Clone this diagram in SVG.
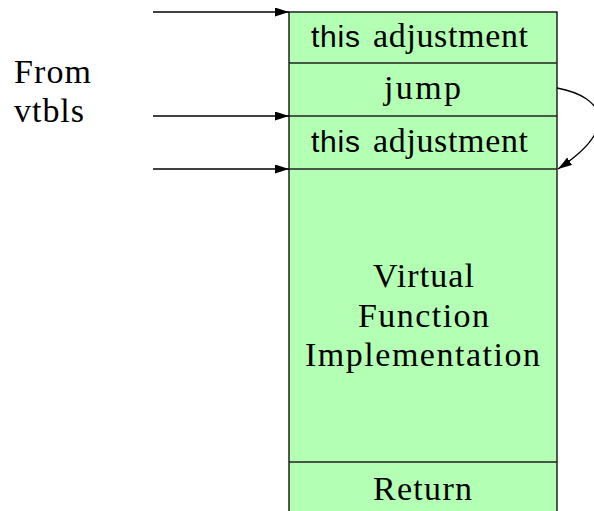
<svg xmlns="http://www.w3.org/2000/svg" width="594" height="511" viewBox="0 0 594 511">
<defs>
<style>
.serif{font-family:"Liberation Serif","DejaVu Serif",serif;font-size:34px;fill:#000}
.sans{font-family:"Liberation Sans",Arial,sans-serif;font-size:30px;fill:#000}
.cell{fill:#b3ffb3;stroke:#000;stroke-width:1.3}
.div{stroke:#222;stroke-width:1.3}
.conn{stroke:#000;stroke-width:1.3;fill:none}
</style>
<marker id="ah" markerWidth="14" markerHeight="9" refX="14" refY="4.5" orient="auto" markerUnits="userSpaceOnUse">
<path d="M0,0 L14,4.5 L0,9 Z" fill="#000"/>
</marker>
</defs>
<rect width="594" height="511" fill="#fff"/>
<g id="block">
<rect class="cell" x="289" y="12" width="268" height="510"/>
<line class="div" x1="289" y1="63" x2="557" y2="63"/>
<line class="div" x1="289" y1="116" x2="557" y2="116"/>
<line class="div" x1="289" y1="169" x2="557" y2="169"/>
<line class="div" x1="289" y1="462" x2="557" y2="462"/>
</g>
<g id="row-this1">
<text class="sans" x="311" y="47" textLength="49">this</text>
<text class="serif" x="373" y="47" textLength="155">adjustment</text>
</g>
<g id="row-jump">
<text class="serif" x="384" y="99" textLength="77">jump</text>
</g>
<g id="row-this2">
<text class="sans" x="311" y="152" textLength="49">this</text>
<text class="serif" x="373" y="152" textLength="155">adjustment</text>
</g>
<g id="row-impl">
<text class="serif" x="373" y="287" textLength="101">Virtual</text>
<text class="serif" x="358" y="327" textLength="131">Function</text>
<text class="serif" x="305" y="366" textLength="235">Implementation</text>
</g>
<g id="row-return">
<text class="serif" x="373" y="500" textLength="99">Return</text>
</g>
<g id="label-from">
<text class="serif" x="14" y="83" textLength="77">From</text>
<text class="serif" x="14" y="122" textLength="70">vtbls</text>
</g>
<g id="connectors">
<line class="conn" x1="153" y1="12" x2="289" y2="12" marker-end="url(#ah)"/>
<line class="conn" x1="153" y1="116" x2="289" y2="116" marker-end="url(#ah)"/>
<line class="conn" x1="153" y1="169" x2="289" y2="169" marker-end="url(#ah)"/>
<path class="conn" d="M557,88 C605,97 620,128 558,169" marker-end="url(#ah)"/>
</g>
</svg>
